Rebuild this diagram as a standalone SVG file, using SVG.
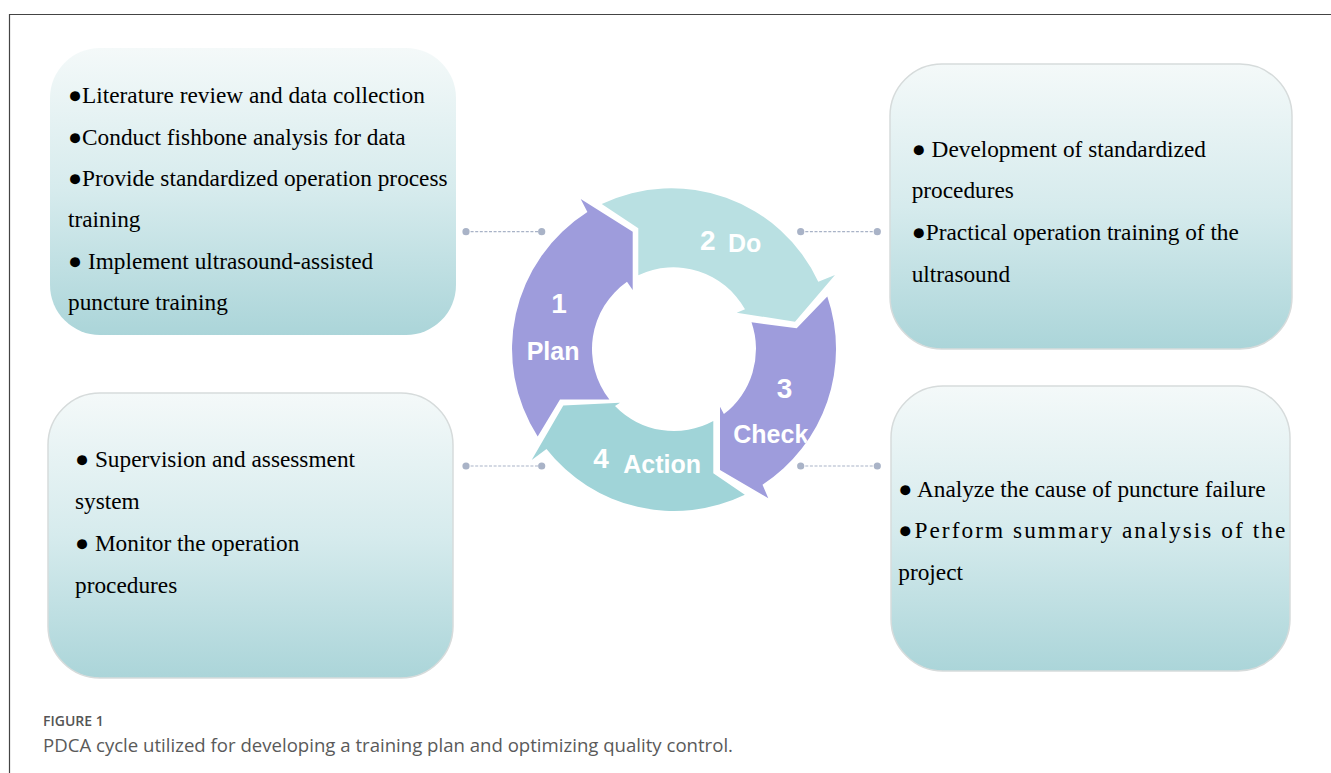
<svg xmlns="http://www.w3.org/2000/svg" xmlns:xlink="http://www.w3.org/1999/xlink" width="1331" height="773" viewBox="0 0 1331 773">
  <style>
    .box { fill: url(#boxFill); stroke: #d6dbdb; stroke-width: 1.5; }
    .box-plain { fill: url(#boxFill); stroke: none; }
    .txt { font-family: "Liberation Serif", "Times New Roman", serif; font-size: 23.3px; fill: #000; }
    .num { font-family: "Liberation Sans", Arial, sans-serif; font-weight: bold; font-size: 28px; fill: #fff; }
    .lbl { font-family: "Liberation Sans", Arial, sans-serif; font-weight: bold; font-size: 25px; fill: #fff; }
    .purple { fill: #9e9cdc; }
    .teal-light { fill: #b9e0e2; }
    .teal { fill: #a0d4d8; }
    .dash { stroke: #a9b3c7; stroke-width: 1.2; stroke-dasharray: 3 1.6; fill: none; }
    .dot { fill: #a9b3c7; }
    .cap-head { font-family: "Open Sans", "Liberation Sans", sans-serif; font-weight: 600; font-size: 14px; fill: #555; }
    .cap { font-family: "Open Sans", "Liberation Sans", sans-serif; font-size: 18px; fill: #5a5a5a; }
  </style>
  <defs>
    <linearGradient id="boxFill" x1="0" y1="0" x2="0" y2="1">
      <stop offset="0" stop-color="#f4f9f9"/>
      <stop offset="0.5" stop-color="#d6ebed"/>
      <stop offset="1" stop-color="#abd5d9"/>
    </linearGradient>
    <!-- circular arrow segments, centre (674,349), outer r 162, inner r 82 -->
    <path id="checkShape" d="M 827.3 296.5 A 162 162 0 0 1 762.5 484.7 L 768.3 498.3 L 720 470 L 720 406.7 L 723.9 414.1 A 82 82 0 0 0 751.5 322.3 L 796.7 328.3 Z"/>
    <clipPath id="checkClip"><use xlink:href="#checkShape"/></clipPath>
  </defs>

  <rect width="1331" height="773" fill="#fff"/>
  <!-- figure frame -->
  <path d="M 9.5 773 V 14.5 H 1331" fill="none" stroke="#444" stroke-width="1.2"/>

  <!-- text boxes -->
  <g id="box-plan">
    <rect class="box-plain" x="50" y="48" width="406" height="287" rx="50" ry="50"/>
    <text class="txt" x="68" y="103.3">●Literature review and data collection</text>
    <text class="txt" x="68" y="144.7">●Conduct fishbone analysis for data</text>
    <text class="txt" x="68" y="186">●Provide standardized operation process</text>
    <text class="txt" x="68" y="227.3">training</text>
    <text class="txt" x="68" y="268.7">● Implement ultrasound-assisted</text>
    <text class="txt" x="68" y="310">puncture training</text>
  </g>

  <g id="box-do">
    <rect class="box" x="890" y="64" width="402" height="285" rx="52" ry="52"/>
    <text class="txt" x="911.7" y="156.7">● Development of standardized</text>
    <text class="txt" x="911.7" y="198.3">procedures</text>
    <text class="txt" x="911.7" y="240">●Practical operation training of the</text>
    <text class="txt" x="911.7" y="281.7">ultrasound</text>
  </g>

  <g id="box-check">
    <rect class="box" x="891" y="386" width="399" height="285" rx="52" ry="52"/>
    <text class="txt" x="898.3" y="496.7">● Analyze the cause of puncture failure</text>
    <text class="txt" x="898.3" y="538.3" textLength="387" lengthAdjust="spacing">●Perform summary analysis of the</text>
    <text class="txt" x="898.3" y="580">project</text>
  </g>

  <g id="box-action">
    <rect class="box" x="48" y="393" width="405" height="285" rx="52" ry="52"/>
    <text class="txt" x="75" y="467.3">● Supervision and assessment</text>
    <text class="txt" x="75" y="509.3">system</text>
    <text class="txt" x="75" y="550.7">● Monitor the operation</text>
    <text class="txt" x="75" y="592.7">procedures</text>
  </g>

  <!-- dotted leader lines between boxes and the cycle -->
  <g id="connectors">
    <line class="dash" x1="466" y1="231.7" x2="541.7" y2="231.7"/>
    <circle class="dot" cx="466" cy="231.7" r="3.6"/>
    <circle class="dot" cx="541.7" cy="231.7" r="3.6"/>
    <line class="dash" x1="800.7" y1="231.7" x2="877.3" y2="231.7"/>
    <circle class="dot" cx="800.7" cy="231.7" r="3.6"/>
    <circle class="dot" cx="877.3" cy="231.7" r="3.6"/>
    <line class="dash" x1="466" y1="466" x2="541.7" y2="466"/>
    <circle class="dot" cx="466" cy="466" r="3.6"/>
    <circle class="dot" cx="541.7" cy="466" r="3.6"/>
    <line class="dash" x1="800.7" y1="466" x2="877.3" y2="466"/>
    <circle class="dot" cx="800.7" cy="466" r="3.6"/>
    <circle class="dot" cx="877.3" cy="466" r="3.6"/>
  </g>

  <!-- PDCA cycle -->
  <g id="node-plan">
    <path class="purple" d="M 537.7 436.5 A 162 162 0 0 1 587.4 212.1 L 580.7 199 L 632.7 231.7 L 632.7 290 L 627.0 281.8 A 82 82 0 0 0 609.4 399.5 L 560 399.5 Z"/>
    <text class="num" x="559" y="313" text-anchor="middle">1</text>
    <text class="lbl" x="526.7" y="360">Plan</text>
  </g>

  <g id="node-do">
    <path class="teal-light" d="M 601.7 204 L 638.3 228.3 L 638.3 275.2 A 82 82 0 0 1 745 309.3 L 736.7 312.7 L 795 321.7 L 835 275 L 818.3 281.7 A 162 162 0 0 0 601.7 204 Z"/>
    <text class="num" x="700" y="250">2</text>
    <text class="lbl" x="728" y="252">Do</text>
  </g>

  <g id="node-check">
    <use xlink:href="#checkShape" class="purple"/>
    <text class="num" x="776.7" y="398">3</text>
    <text class="lbl" x="733.3" y="443.3" clip-path="url(#checkClip)">Check</text>
  </g>

  <g id="node-action">
    <path class="teal" d="M 744.8 494.7 L 713.3 473.3 L 713.3 421 A 82 82 0 0 1 615 406 L 620 402.7 L 563.3 405.5 L 531.7 460 L 546.5 448.9 A 162 162 0 0 0 744.8 494.7 Z"/>
    <text class="num" x="593.3" y="468.3">4</text>
    <text class="lbl" x="623.3" y="473.3">Action</text>
  </g>

  <!-- caption -->
  <g id="caption">
    <text class="cap-head" x="43" y="726">FIGURE 1</text>
    <text class="cap" x="43" y="752" textLength="690" lengthAdjust="spacingAndGlyphs">PDCA cycle utilized for developing a training plan and optimizing quality control.</text>
  </g>
</svg>
